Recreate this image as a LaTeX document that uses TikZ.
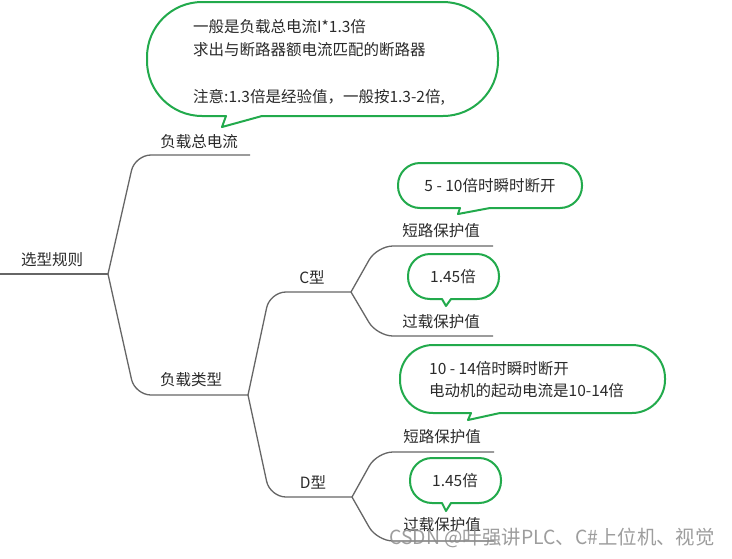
\documentclass[tikz,border=0pt]{standalone}
\usepackage{fontspec}
\setmainfont{Noto Sans CJK SC}
\definecolor{lineC}{HTML}{666666}
\definecolor{grn}{HTML}{22AA4C}
\definecolor{txt}{HTML}{2A2A2A}
\definecolor{wmC}{HTML}{8C8C8C}
\begin{document}
\begin{tikzpicture}[x=1pt,y=-1pt,
  lbl/.style={text=txt, font=\fontsize{15.5}{18}\selectfont, inner sep=0pt},
  branch/.style={draw=lineC, line width=1.3pt, rounded corners=16pt},
  bub/.style={draw=grn, line width=2pt, line cap=round, line join=round},
  wm/.style={text=wmC, opacity=0.85, font=\fontsize{19.4}{22}\selectfont, inner sep=0pt}]
\useasboundingbox[fill=white] (0,0) rectangle (732,558);

% tree coordinates
\coordinate (r0) at (0,274);
\coordinate (rf) at (108,274);
\coordinate (k1) at (135,155); \coordinate (e1) at (250,155);
\coordinate (k2) at (135,395); \coordinate (tf) at (248,395);
\coordinate (kc) at (270,292); \coordinate (cf) at (351,292);
\coordinate (kd) at (270,497); \coordinate (df) at (352,497);
\coordinate (kc1) at (377,246); \coordinate (ec1) at (493,246);
\coordinate (kc2) at (377,336); \coordinate (ec2) at (493,336);
\coordinate (kd1) at (377,452); \coordinate (ed1) at (494,452);
\coordinate (kd2) at (377,541); \coordinate (ed2) at (494,541);

\draw[branch] (r0) -- (rf);
\draw[branch] (rf) -- (k1) -- (e1);
\draw[branch] (rf) -- (k2) -- (tf);
\draw[branch] (tf) -- (kc) -- (cf);
\draw[branch] (tf) -- (kd) -- (df);
\draw[branch] (cf) -- (kc1) -- (ec1);
\draw[branch] (cf) -- (kc2) -- (ec2);
\draw[branch] (df) -- (kd1) -- (ed1);
\draw[branch] (df) -- (kd2) -- (ed2);

% labels
\node[lbl] (root) at (52,260) {选型规则};
\node[lbl] (total) at (199,142) {负载总电流};
\node[lbl] (type) at (191,380) {负载类型};
\node[lbl] (ctype) at (312,277) {C型};
\node[lbl] (dtype) at (313,482) {D型};
\node[lbl] (csc) at (441,231) {短路保护值};
\node[lbl] (col) at (441,322) {过载保护值};
\node[lbl] (dsc) at (442,437) {短路保护值};
\node[lbl] (dol) at (442,525) {过载保护值};

% callout 1
\draw[bub, rounded corners=55pt] (262,116) -- (498,116) -- (498,2) -- (147,2) -- (147,116) -- (226,116);
\draw[bub] (226,116) -- (222,127) -- (262,116);
\node[lbl, anchor=north west, align=left] (note1) at (193,19)
  {一般是负载总电流I*1.3倍\\[5.5pt]求出与断路器额电流匹配的断路器\\[5.5pt]\\[5.5pt]注意:1.3倍是经验值，一般按1.3-2倍,};

% callout 2
\draw[bub, rounded corners=22pt] (490,208) -- (582,208) -- (582,163) -- (398,163) -- (398,208) -- (460,208);
\draw[bub] (460,208) -- (458,214) -- (490,208);
\node[lbl] (note2) at (490,186) {5 - 10倍时瞬时断开};

% callout 3
\draw[bub, rounded corners=22pt] (451,299) -- (499,299) -- (499,254) -- (408,254) -- (408,299) -- (442,299);
\draw[bub] (442,299) -- (446,306) -- (451,299);
\node[lbl] (note3) at (453,277) {1.45倍};

% callout 4
\draw[bub, rounded corners=33pt] (500,413) -- (665,413) -- (665,345) -- (400,345) -- (400,413) -- (471,413);
\draw[bub] (471,413) -- (468,420) -- (500,413);
\node[lbl, anchor=north west, align=left] (note4) at (429,361)
  {10 - 14倍时瞬时断开\\[4.5pt]电动机的起动电流是10-14倍};

% callout 5
\draw[bub, rounded corners=22pt] (451,503) -- (501,503) -- (501,458) -- (410,458) -- (410,503) -- (442,503);
\draw[bub] (442,503) -- (446,511) -- (451,503);
\node[lbl] (note5) at (455,481) {1.45倍};

% watermark
\node[wm] (wmk) at (552,538) {CSDN @叶强讲PLC、C\#上位机、视觉};
\end{tikzpicture}
\end{document}
